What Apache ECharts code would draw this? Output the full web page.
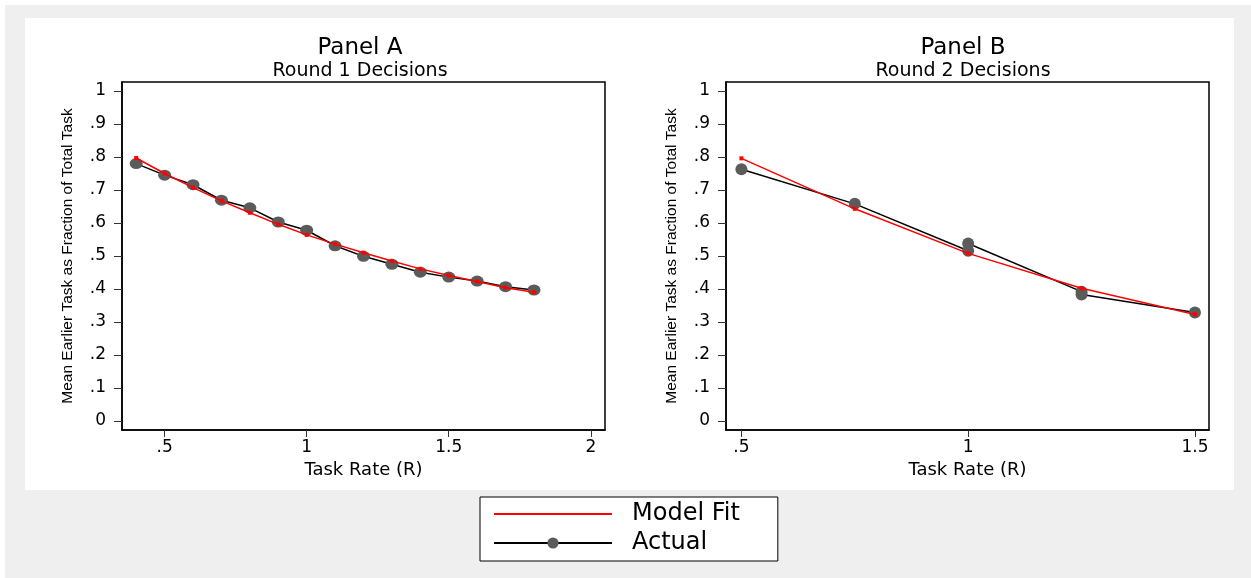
<!DOCTYPE html>
<html>
<head>
<meta charset="utf-8">
<script src="https://cdn.jsdelivr.net/npm/echarts@6/dist/echarts.min.js"></script>
<style>
html,body{margin:0;padding:0;background:#fff;}
#chart{width:1251px;height:578px;}
</style>
</head>
<body>
<div id="chart"></div>
<script>
// ---- data ----
const rateA = [0.4, 0.5, 0.6, 0.7, 0.8, 0.9, 1.0, 1.1, 1.2, 1.3, 1.4, 1.5, 1.6, 1.7, 1.8];
const actualA = [0.780, 0.745, 0.716, 0.669, 0.646, 0.603, 0.578, 0.531, 0.499, 0.475, 0.451, 0.436, 0.424, 0.407, 0.397];
const fitA = [0.797, 0.750, 0.707, 0.667, 0.631, 0.596, 0.564, 0.536, 0.510, 0.485, 0.461, 0.441, 0.423, 0.404, 0.390];

const rateBActual = [0.5, 0.75, 1.0, 1.0, 1.25, 1.25, 1.5];
const actualB = [0.763, 0.658, 0.516, 0.538, 0.392, 0.383, 0.329];
const rateBFit = [0.5, 0.75, 1.0, 1.25, 1.5];
const fitB = [0.796, 0.643, 0.508, 0.402, 0.323];

const yTicks = [0, 0.1, 0.2, 0.3, 0.4, 0.5, 0.6, 0.7, 0.8, 0.9, 1];
const xTicksA = [0.5, 1, 1.5, 2];
const xTicksB = [0.5, 1, 1.5];

const panelTitles = ['Panel A', 'Panel B'];
const panelSubtitles = ['Round 1 Decisions', 'Round 2 Decisions'];
const xAxisTitle = 'Task Rate (R)';
const yAxisTitle = 'Mean Earlier Task as Fraction of Total Task';
const seriesNames = ['Model Fit', 'Actual'];

// ---- helpers ----
const pairs = (xs, ys) => xs.map((x, i) => [x, ys[i]]);
const fmt = v => {
  const s = String(+(+v).toFixed(2));
  return s.replace(/^0\./, '.');
};
const FONT = 'DejaVu Sans';

function xAxis(gridIndex, min, max, ticks) {
  return {
    type: 'value', gridIndex, min, max,
    name: xAxisTitle, nameLocation: 'middle', nameGap: 24,
    nameTextStyle: {fontFamily: FONT, fontSize: 18, color: '#000'},
    axisLine: {show: true, onZero: false, lineStyle: {color: '#000', width: 1.5}},
    axisTick: {show: true, length: 7, customValues: ticks, lineStyle: {color: '#333', width: 1}},
    axisLabel: {customValues: ticks, formatter: fmt, margin: 9, fontFamily: FONT, fontSize: 17, color: '#000'},
    splitLine: {show: false}
  };
}
function yAxis(gridIndex) {
  return {
    type: 'value', gridIndex, min: -0.0273, max: 1.0273,
    name: yAxisTitle, nameLocation: 'middle', nameGap: 46,
    nameTextStyle: {fontFamily: 'Liberation Sans', fontSize: 15.5, color: '#000'},
    axisLine: {show: true, onZero: false, lineStyle: {color: '#000', width: 1.5}},
    axisTick: {show: true, length: 8, customValues: yTicks, lineStyle: {color: '#333', width: 1}},
    axisLabel: {customValues: yTicks, formatter: fmt, margin: 16, fontFamily: FONT, fontSize: 17, color: '#000'},
    splitLine: {show: false}
  };
}
function actualSeries(idx, data) {
  return {
    name: seriesNames[1], type: 'line', xAxisIndex: idx, yAxisIndex: idx,
    data, symbol: 'circle', symbolSize: idx === 0 ? [13, 11] : 12,
    lineStyle: {color: '#000', width: 1.5},
    itemStyle: {color: '#5b5b5b'},
    z: 2, animation: false
  };
}
function fitSeries(idx, data) {
  return {
    name: seriesNames[0], type: 'line', xAxisIndex: idx, yAxisIndex: idx,
    data, symbol: 'rect', symbolSize: 4,
    lineStyle: {color: '#ff0000', width: 1.5},
    itemStyle: {color: '#ff0000'},
    z: 3, animation: false
  };
}

const chart = echarts.init(document.getElementById('chart'), null, {renderer: 'canvas'});
chart.setOption({
  backgroundColor: '#fff',
  animation: false,
  graphic: [
    {type: 'rect', shape: {x: 5, y: 5, width: 1246, height: 573}, style: {fill: '#efefef'}, z: -10, silent: true},
    {type: 'rect', shape: {x: 25, y: 18, width: 1209, height: 472}, style: {fill: '#ffffff'}, z: -9, silent: true}
  ],
  title: [
    {text: panelTitles[0], subtext: panelSubtitles[0], left: 360, top: 37, textAlign: 'center', padding: 0, itemGap: 2,
     textStyle: {fontFamily: FONT, fontSize: 23, fontWeight: 'normal', color: '#000'},
     subtextStyle: {fontFamily: FONT, fontSize: 19, color: '#000'}},
    {text: panelTitles[1], subtext: panelSubtitles[1], left: 963, top: 37, textAlign: 'center', padding: 0, itemGap: 2,
     textStyle: {fontFamily: FONT, fontSize: 23, fontWeight: 'normal', color: '#000'},
     subtextStyle: {fontFamily: FONT, fontSize: 19, color: '#000'}}
  ],
  grid: [
    {left: 122, top: 82, width: 483, height: 348, show: true, borderColor: '#000', borderWidth: 1.5, backgroundColor: '#fff'},
    {left: 726, top: 82, width: 483, height: 348, show: true, borderColor: '#000', borderWidth: 1.5, backgroundColor: '#fff'}
  ],
  xAxis: [xAxis(0, 0.35, 2.05, xTicksA), xAxis(1, 0.466, 1.531, xTicksB)],
  yAxis: [yAxis(0), yAxis(1)],
  legend: {
    show: true, orient: 'vertical', left: 480, top: 497,
    padding: [5, 38, 6, 13], itemGap: 5, itemWidth: 118, itemHeight: 14,
    backgroundColor: '#fff', borderColor: '#000', borderWidth: 1, borderRadius: 0,
    selectedMode: false,
    textStyle: {fontFamily: FONT, fontSize: 24, lineHeight: 24, color: '#000', padding: [0, 0, 0, 15]},
    data: [
      {name: seriesNames[0], icon: 'path://M0,0H118V2H0Z'},
      {name: seriesNames[1]}
    ]
  },
  series: [
    actualSeries(0, pairs(rateA, actualA)),
    fitSeries(0, pairs(rateA, fitA)),
    actualSeries(1, pairs(rateBActual, actualB)),
    fitSeries(1, pairs(rateBFit, fitB))
  ]
});
</script>
</body>
</html>
